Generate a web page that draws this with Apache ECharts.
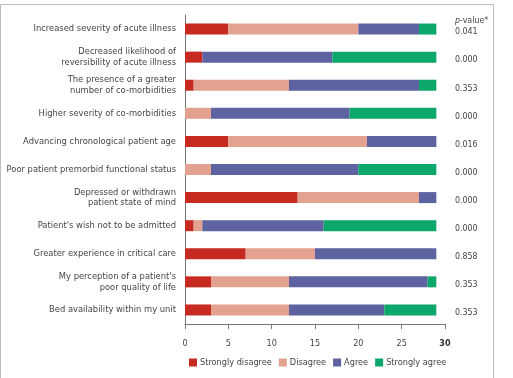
<!DOCTYPE html>
<html>
<head>
<meta charset="utf-8">
<script src="https://cdn.jsdelivr.net/npm/echarts@6/dist/echarts.min.js"></script>
<style>
  html, body { margin: 0; padding: 0; background: #fff; }
  #chart { width: 513px; height: 378px; }
</style>
</head>
<body>
<div id="chart"></div>
<script>
// 항목 (top to bottom)
var categories = [
  'Increased severity of acute illness',
  'Decreased likelihood of\nreversibility of acute illness',
  'The presence of a greater\nnumber of co-morbidities',
  'Higher severity of co-morbidities',
  'Advancing chronological patient age',
  'Poor patient premorbid functional status',
  'Depressed or withdrawn\npatient state of mind',
  "Patient's wish not to be admitted",
  'Greater experience in critical care',
  "My perception of a patient's\npoor quality of life",
  'Bed availability within my unit'
];
var pValues = ['0.041', '0.000', '0.353', '0.000', '0.016', '0.000', '0.000', '0.000', '0.858', '0.353', '0.353'];

var stronglyDisagree = [5, 2, 1, 0, 5, 0, 13, 1, 7, 3, 3];
var disagree         = [15, 0, 11, 3, 16, 3, 14, 1, 8, 9, 9];
var agree            = [7, 15, 15, 16, 8, 17, 2, 14, 14, 16, 11];
var stronglyAgree    = [2, 12, 2, 10, 0, 9, 0, 13, 0, 1, 6];

var xTicks = [0, 5, 10, 15, 20, 25, 30];

var chart = echarts.init(document.getElementById('chart'));
var font = '"DejaVu Sans Condensed", sans-serif';
var textColor = '#444';

function bar(name, data, color) {
  return {
    name: name,
    type: 'bar',
    stack: 'total',
    barWidth: 11,
    itemStyle: { color: color },
    data: data
  };
}

var option = {
  animation: false,
  textStyle: { fontFamily: font },
  graphic: [{
    type: 'rect',
    shape: { x: 0.5, y: 4.5, width: 493, height: 390 },
    style: { fill: 'none', stroke: '#bdbdbd', lineWidth: 1 }
  }, {
    // p-value 컬럼 제목
    type: 'text',
    left: 455,
    top: 16,
    style: {
      text: '{i|p}-value*',
      font: '8.8px ' + font,
      fill: textColor,
      rich: { i: { fontStyle: 'italic', fontFamily: font, fontSize: 8.8, fill: textColor } }
    }
  }],
  grid: { left: 185, right: 68, top: 15, bottom: 54, outerBoundsMode: 'none', containLabel: false },
  legend: {
    left: 184,
    top: 353,
    width: 320,
    itemWidth: 8,
    itemHeight: 8,
    itemGap: 7,
    icon: 'rect',
    textStyle: { fontFamily: font, fontSize: 9.1, color: textColor, padding: [0, 0, 0, -2] },
    data: ['Strongly disagree', 'Disagree', 'Agree', 'Strongly agree']
  },
  xAxis: {
    type: 'value',
    min: 0,
    max: 30,
    interval: 5,
    axisLine: { show: true, lineStyle: { color: '#777' } },
    axisTick: { show: true, length: 5, lineStyle: { color: '#777' } },
    splitLine: { show: false },
    axisLabel: {
      fontFamily: font,
      fontSize: 9,
      color: textColor,
      margin: 15,
      formatter: function (v) {
        return xTicks.indexOf(v) === xTicks.length - 1 ? '{b|' + v + '}' : String(v);
      },
      rich: { b: { fontFamily: font, fontSize: 9, fontWeight: 'bold', color: '#333' } }
    }
  },
  yAxis: [{
    type: 'category',
    inverse: true,
    data: categories,
    axisLine: { show: true, lineStyle: { color: '#777' } },
    axisTick: { show: false },
    axisLabel: {
      fontFamily: font,
      fontSize: 9.3,
      lineHeight: 10.5,
      color: textColor,
      margin: 9,
      align: 'right'
    }
  }, {
    type: 'category',
    inverse: true,
    position: 'right',
    data: pValues,
    axisLine: { show: false },
    axisTick: { show: false },
    axisLabel: {
      fontFamily: font,
      fontSize: 8.8,
      color: textColor,
      margin: 10,
      verticalAlign: 'top',
      lineHeight: 6
    }
  }],
  series: [
    bar('Strongly disagree', stronglyDisagree, '#c62a20'),
    bar('Disagree', disagree, '#e3a18f'),
    bar('Agree', agree, '#5d62a0'),
    bar('Strongly agree', stronglyAgree, '#0ca76b')
  ]
};

chart.setOption(option);
</script>
</body>
</html>
